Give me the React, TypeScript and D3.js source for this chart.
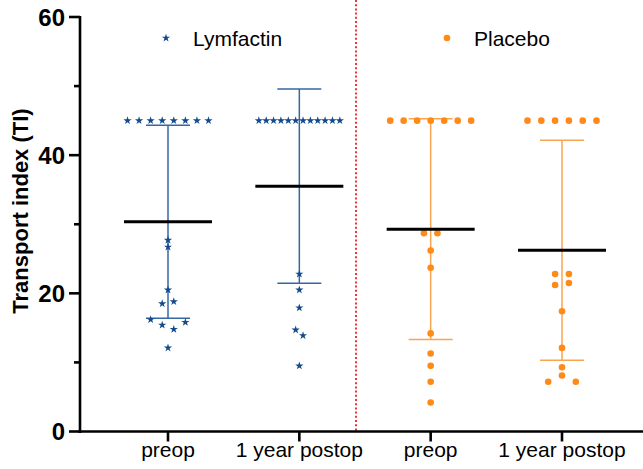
import React from "react";
import * as d3 from "d3";

const categories = ["preop", "1 year postop", "preop ", "1 year postop "];
const categoryLabels = ["preop", "1 year postop", "preop", "1 year postop"];
const groupOf = ["Lymfactin", "Lymfactin", "Placebo", "Placebo"];

const lymfactinPreop = [45, 45, 45, 45, 45, 45, 45, 45, 27.7, 26.7, 20.5, 18.5, 18.8, 16.2, 15.4, 14.8, 15.8, 12.1];
const lymfactinPostop = [45, 45, 45, 45, 45, 45, 45, 45, 45, 45, 45, 45, 22.8, 20.5, 17.9, 14.7, 13.9, 9.5];
const placeboPreop = [45, 45, 45, 45, 45, 45, 45, 28.7, 28.7, 26.2, 23.7, 14.2, 11.3, 9.5, 7.2, 4.2];
const placeboPostop = [45, 45, 45, 45, 45, 45, 22.8, 22.8, 21.2, 21.5, 17.4, 12.1, 9.3, 7.2, 8.1, 7.2];

const seriesValues = [lymfactinPreop, lymfactinPostop, placeboPreop, placeboPostop];

const yTicks = [0, 20, 40, 60];
const yMinorTicks = [10, 30, 50];
const legendNames = ["Lymfactin", "Placebo"];

const W = 643;
const H = 469;
const FONT = "'Liberation Sans', Arial, Helvetica, sans-serif";

const colors: Record<string, { mark: string; bar: string }> = {
  Lymfactin: { mark: "#124a8c", bar: "#3767a3" },
  Placebo: { mark: "#ff8a17", bar: "#f9a450" },
};

function layoutColumn(values: number[]) {
  // group into rows (chained by value proximity), then spread horizontally
  const idx = values.map((_, i) => i).sort((a, b) => values[a] - values[b] || a - b);
  const rows: number[][] = [];
  let prev = -Infinity;
  idx.forEach((i) => {
    if (rows.length === 0 || values[i] - prev > 0.95) rows.push([i]);
    else rows[rows.length - 1].push(i);
    prev = values[i];
  });
  const maxN = d3.max(rows, (r) => r.length) || 1;
  const spacing = maxN > 1 ? Math.min(13.8, 81 / (maxN - 1)) : 13.8;
  const offsets = new Array(values.length).fill(0);
  rows.forEach((r) => {
    const sorted = [...r].sort((a, b) => a - b);
    sorted.forEach((i, k) => {
      offsets[i] = (k - (sorted.length - 1) / 2) * spacing;
    });
  });
  return offsets;
}

export default function App() {
  const x = d3.scalePoint<string>().domain(categories).range([168, 562]);
  const y = d3.scaleLinear().domain([0, 60]).range([431.5, 17]);
  const star = d3.symbol().type(d3.symbolStar).size(21)() as string;
  const axisX0 = 80;

  return (
    <svg width={W} height={H} style={{ position: "absolute", left: 0, top: 0, background: "#fff" }} fontFamily={FONT}>
      {/* divider */}
      <line x1={356} x2={356} y1={0} y2={y(0)} stroke="#ee1c25" strokeWidth={1.8} strokeDasharray="2,2.2" />

      {/* data columns */}
      {categories.map((c, ci) => {
        const vals = seriesValues[ci];
        const g = groupOf[ci];
        const col = colors[g];
        const cx = x(c) as number;
        const offs = layoutColumn(vals);
        const m = d3.mean(vals) as number;
        const sd = d3.deviation(vals) as number;
        return (
          <g key={c}>
            <line x1={cx} x2={cx} y1={y(m + sd)} y2={y(m - sd)} stroke={col.bar} strokeWidth={1.5} />
            <line x1={cx - 22} x2={cx + 22} y1={y(m + sd)} y2={y(m + sd)} stroke={col.bar} strokeWidth={1.5} />
            <line x1={cx - 22} x2={cx + 22} y1={y(m - sd)} y2={y(m - sd)} stroke={col.bar} strokeWidth={1.5} />
            {vals.map((v, i) =>
              g === "Lymfactin" ? (
                <path key={i} d={star} transform={`translate(${cx + offs[i]},${y(v)})`} fill={col.mark} />
              ) : (
                <circle key={i} cx={cx + offs[i]} cy={y(v)} r={3.3} fill={col.mark} />
              )
            )}
            <line x1={cx - 44} x2={cx + 44} y1={y(m)} y2={y(m)} stroke="#000" strokeWidth={3} />
          </g>
        );
      })}

      {/* y axis */}
      <line x1={axisX0} x2={axisX0} y1={y(60) - 1} y2={y(0) + 1.5} stroke="#000" strokeWidth={2.6} />
      {yTicks.map((t) => (
        <g key={t}>
          <line x1={axisX0 - 11} x2={axisX0} y1={y(t)} y2={y(t)} stroke="#000" strokeWidth={2.6} />
          <text x={axisX0 - 15} y={y(t)} dy="0.36em" textAnchor="end" fontSize={24} fontWeight="bold" fill="#000">
            {t}
          </text>
        </g>
      ))}
      {yMinorTicks.map((t) => (
        <line key={t} x1={axisX0 - 6} x2={axisX0} y1={y(t)} y2={y(t)} stroke="#000" strokeWidth={2.6} />
      ))}
      <text
        transform={`translate(28,211) rotate(-90)`}
        textAnchor="middle"
        fontSize={22}
        fontWeight="bold"
        fill="#000"
      >
        Transport index (TI)
      </text>

      {/* x axis */}
      <line x1={axisX0 - 1.3} x2={W} y1={y(0)} y2={y(0)} stroke="#000" strokeWidth={2.6} />
      {categories.map((c, i) => (
        <g key={c}>
          <line x1={x(c)} x2={x(c)} y1={y(0)} y2={y(0) + 10} stroke="#000" strokeWidth={2.6} />
          <text x={x(c)} y={457} textAnchor="middle" fontSize={21} fill="#000">
            {categoryLabels[i]}
          </text>
        </g>
      ))}

      {/* legend */}
      <path d={star} transform="translate(166,38)" fill={colors.Lymfactin.mark} />
      <text x={193} y={46} fontSize={21} fill="#000">{legendNames[0]}</text>
      <circle cx={447} cy={38} r={3.3} fill={colors.Placebo.mark} />
      <text x={474} y={46} fontSize={21} fill="#000">{legendNames[1]}</text>
    </svg>
  );
}
